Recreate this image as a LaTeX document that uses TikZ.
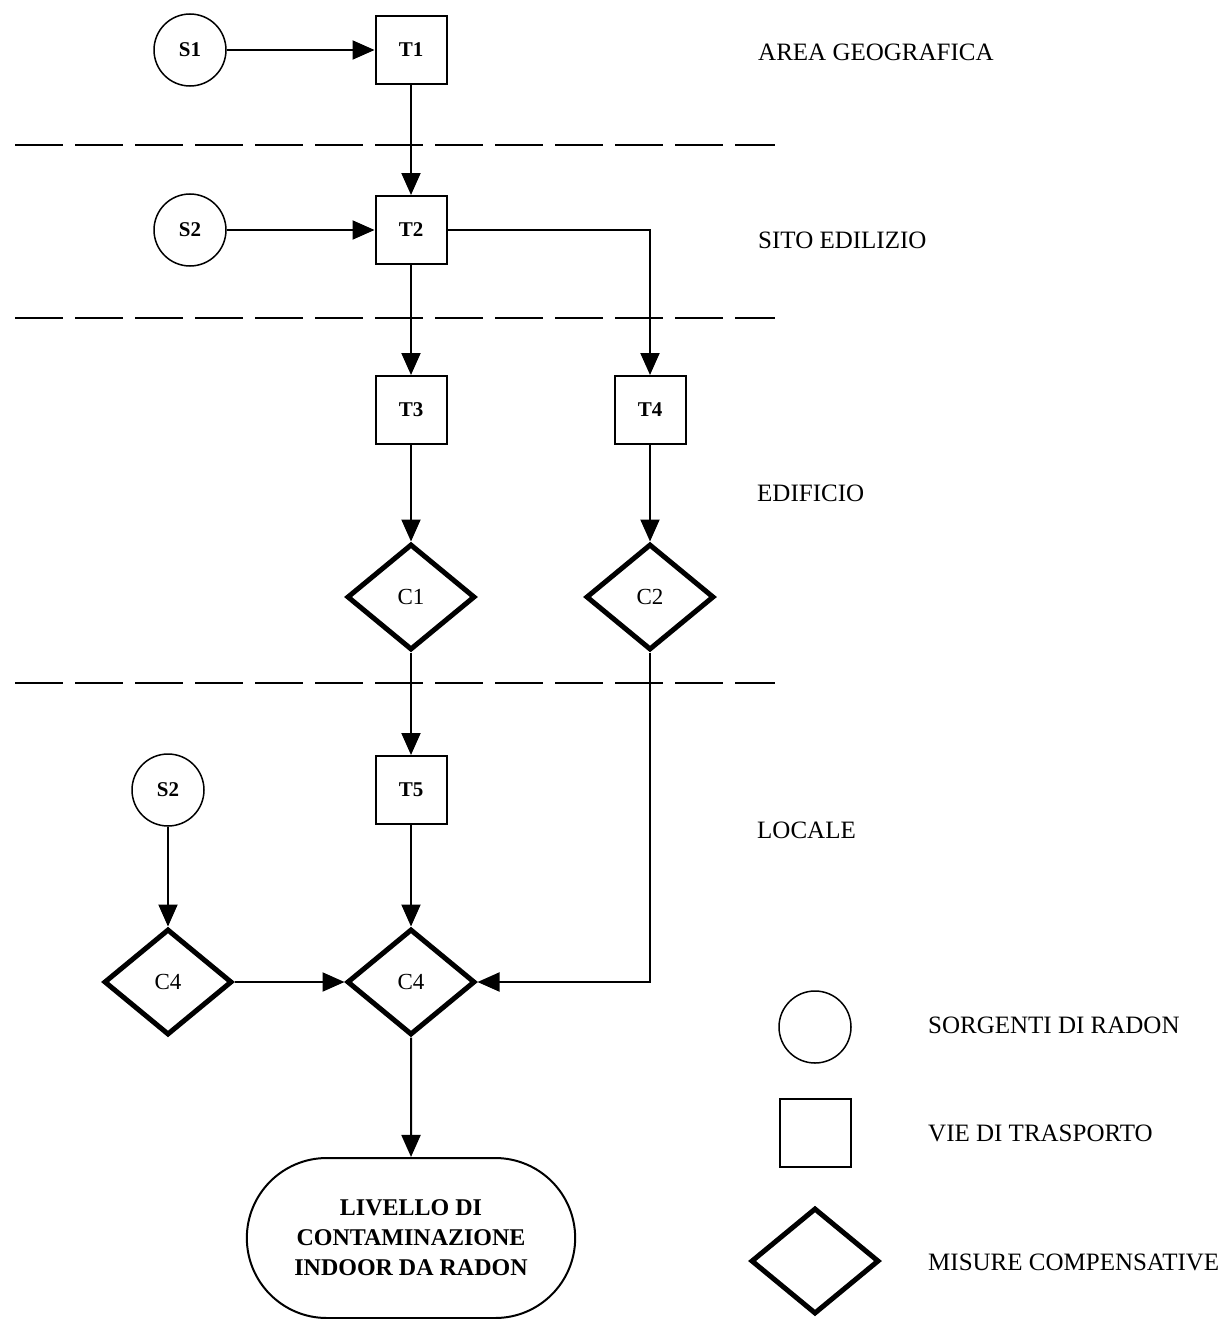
\documentclass[tikz,border=0pt]{standalone}
\usepackage{fontspec}
\setmainfont{Liberation Serif}
\usetikzlibrary{shapes.geometric,shapes.misc,arrows.meta}
\begin{document}
\begin{tikzpicture}[x=1pt,y=-1pt,
  src/.style={circle,draw,line width=1.5pt,minimum size=72pt,inner sep=0pt,font=\fontsize{21}{24}\selectfont\bfseries},
  tr/.style={rectangle,draw,line width=2pt,minimum width=71pt,minimum height=68pt,inner sep=0pt,font=\fontsize{21}{24}\selectfont\bfseries},
  comp/.style={diamond,draw,line width=5pt,minimum width=128pt,minimum height=106pt,inner sep=0pt,font=\fontsize{23}{26}\selectfont},
  conn/.style={line width=2pt,-{Triangle[length=22pt,width=19pt]}},
  sepline/.style={line width=2pt,dash pattern=on 48pt off 12pt},
  lvl/.style={anchor=west,font=\fontsize{25}{28}\selectfont,inner sep=0pt},
  res/.style={rounded rectangle,draw,line width=2pt,minimum width=335pt,minimum height=160pt,align=center,font=\fontsize{24}{30}\selectfont\bfseries},
]
\useasboundingbox (0,0) rectangle (1224,1319);

% separators
\coordinate (d1a) at (15,145);  \coordinate (d1b) at (775,145);
\coordinate (d2a) at (15,318);  \coordinate (d2b) at (775,318);
\coordinate (d3a) at (15,683);  \coordinate (d3b) at (775,683);
\draw[sepline] (d1a) -- (d1b);
\draw[sepline] (d2a) -- (d2b);
\draw[sepline] (d3a) -- (d3b);

% nodes
\node[src] (S1) at (190,50) {S1};
\node[tr]  (T1) at (411,50) {T1};
\node[src] (S2) at (190,230) {S2};
\node[tr]  (T2) at (411,230) {T2};
\node[tr]  (T3) at (411,410) {T3};
\node[tr]  (T4) at (650,410) {T4};
\node[comp] (C1) at (411,597) {C1};
\node[comp] (C2) at (650,597) {C2};
\node[tr]  (T5) at (411,790) {T5};
\node[src] (S3) at (168,790) {S2};
\node[comp] (C4l) at (168,982) {C4};
\node[comp] (C4c) at (411,982) {C4};
\node[res] (R) at (411,1238) {LIVELLO DI\\CONTAMINAZIONE\\INDOOR DA RADON};

% connectors
\draw[conn] (S1) -- (T1);
\draw[conn] (T1) -- (T2);
\draw[conn] (S2) -- (T2);
\draw[conn] (T2) -- (T3);
\draw[conn] (T2.east) -| (T4.north);
\draw[conn] (T3) -- (C1);
\draw[conn] (T4) -- (C2);
\draw[conn] (C1) -- (T5);
\draw[conn] (T5) -- (C4c);
\draw[conn] (S3) -- (C4l);
\draw[conn] (C4l) -- (C4c);
\draw[conn] (C2.south) |- (C4c.east);
\draw[conn] (C4c) -- (R);

% level labels
\node[lvl] (L1) at (758,52) {AREA GEOGRAFICA};
\node[lvl] (L2) at (758,240) {SITO EDILIZIO};
\node[lvl] (L3) at (757,493) {EDIFICIO};
\node[lvl] (L4) at (757,830) {LOCALE};

% legend
\node[src] (LS) at (815,1027) {};
\node[tr]  (LT) at (815,1133) {};
\node[comp] (LC) at (815,1261) {};
\node[lvl] (LSt) at (928,1025) {SORGENTI DI RADON};
\node[lvl] (LTt) at (928,1133) {VIE DI TRASPORTO};
\node[lvl] (LCt) at (928,1262) {MISURE COMPENSATIVE};
\end{tikzpicture}
\end{document}
